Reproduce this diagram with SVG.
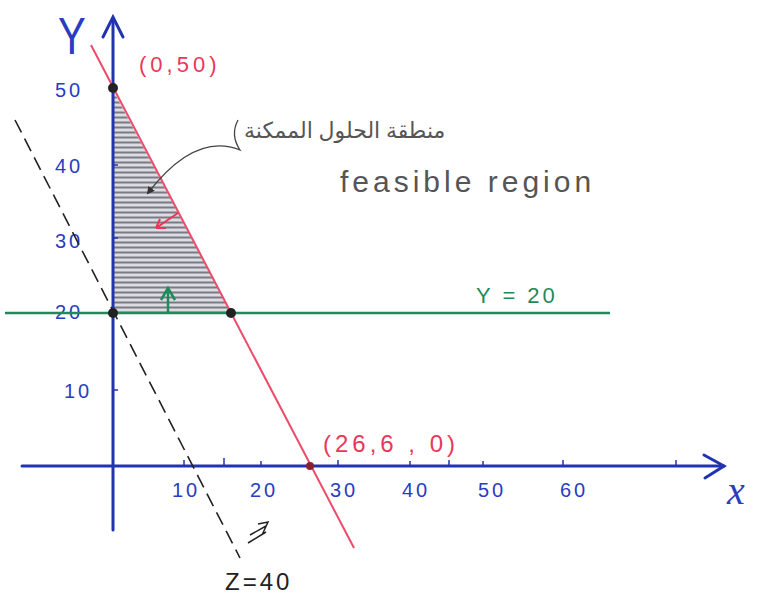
<svg xmlns="http://www.w3.org/2000/svg" width="757" height="596" viewBox="0 0 757 596">
<style>
.ax{stroke:#2233b0;stroke-width:3;fill:none;stroke-linecap:round}
.tk{stroke:#2233b0;stroke-width:1.5;fill:none}
.bl{fill:#2a3cc0;font-family:"Liberation Sans",sans-serif;font-size:20px;letter-spacing:3px}
.rd{fill:#e8385a;font-family:"Liberation Sans",sans-serif;letter-spacing:4px}
.dot{fill:#222}
</style>
<defs>
<pattern id="hatch" width="8" height="5" patternUnits="userSpaceOnUse">
<rect width="8" height="5" fill="#dcdce2"/>
<line x1="0" y1="2.5" x2="8" y2="2.5" stroke="#7a7a84" stroke-width="2"/>
</pattern>
<marker id="ab" markerWidth="8" markerHeight="8" refX="6" refY="4" orient="auto" markerUnits="userSpaceOnUse" viewBox="0 0 8 8"><path d="M0,0 L8,4 L0,8 z" fill="#333"/></marker>
</defs>
<rect width="757" height="596" fill="#ffffff"/>
<g id="region">
<polygon points="113,90 113,313 231,313" fill="url(#hatch)"/>
</g>
<g id="axes">
<line class="ax" x1="113" y1="18" x2="113" y2="530"/>
<polyline class="ax" points="103,37 113,17 123,37"/>
<line class="ax" x1="22" y1="466" x2="724" y2="466"/>
<polyline class="ax" points="704,455 724,466 705,478"/>
<path class="tk" d="M113,165 h5 M113,238 h5 M113,390 h5 M184,466 v-6 M224,466 v-8 M261,466 v-5 M338,466 v-6 M410,466 v-5 M449,466 v-6 M483,466 v-5 M563,466 v-6 M676,466 v-6"/>
<text x="58" y="54" fill="#2a3cc0" font-family="Liberation Sans,sans-serif" font-size="52" transform="translate(58,0) scale(0.8,1) translate(-58,0)">Y</text>
<text x="727" y="504" fill="#2a3cc0" font-family="Liberation Serif,serif" font-style="italic" font-size="40">x</text>
<text class="bl" x="55" y="97">50</text>
<text class="bl" x="55" y="173">40</text>
<text class="bl" x="55" y="248">30</text>
<text class="bl" x="55" y="319">20</text>
<text class="bl" x="64" y="398">10</text>
<text class="bl" x="172" y="497">10</text>
<text class="bl" x="250" y="497">20</text>
<text class="bl" x="330" y="497">30</text>
<text class="bl" x="402" y="497">40</text>
<text class="bl" x="478" y="497">50</text>
<text class="bl" x="560" y="497">60</text>
</g>
<g id="connectors">
<line x1="5" y1="313" x2="610" y2="313" stroke="#1e8a5a" stroke-width="2.5"/>
<line x1="91" y1="45" x2="354" y2="548" stroke="#ee4a6a" stroke-width="2"/>
<line x1="15" y1="120" x2="240" y2="558" stroke="#222" stroke-width="1.6" stroke-dasharray="14,7"/>
<path d="M238,120 Q230,135 240,150 Q195,132 148,193" fill="none" stroke="#444" stroke-width="1.3" marker-end="url(#ab)"/>
<path d="M178,213 L156,228 M156,228 l4,-9 M156,228 l10,0" fill="none" stroke="#ee3355" stroke-width="2"/>
<path d="M168,312 L168,290 M161,300 L168,288 L175,300" fill="none" stroke="#1e8a5a" stroke-width="2.5"/>
<path d="M250,535 L266,526 M248,543 L266,532 M258,524 L268,522 L262,535" fill="none" stroke="#222" stroke-width="1.5"/>
</g>
<g id="points">
<circle class="dot" cx="113" cy="88" r="5"/>
<circle class="dot" cx="113" cy="313" r="5"/>
<circle class="dot" cx="231" cy="313" r="5"/>
<circle cx="310" cy="466" r="4" fill="#8a2030"/>
</g>
<g id="labels">
<text class="rd" x="139" y="72" font-size="22">(0,50)</text>
<text class="rd" x="323" y="452" font-size="24">(26,6 , 0)</text>
<text x="476" y="303" fill="#1e8a5a" font-family="Liberation Sans,sans-serif" font-size="22" letter-spacing="3">Y = 20</text>
<text x="225" y="590" fill="#222" font-family="Liberation Sans,sans-serif" font-size="24" letter-spacing="3">Z=40</text>
<text x="340" y="192" fill="#555" font-family="Liberation Sans,sans-serif" font-size="30" letter-spacing="4">feasible region</text>
<text x="244" y="138" fill="#555" font-family="Noto Sans,DejaVu Sans,sans-serif" font-size="22">منطقة الحلول الممكنة</text>
</g>
</svg>
